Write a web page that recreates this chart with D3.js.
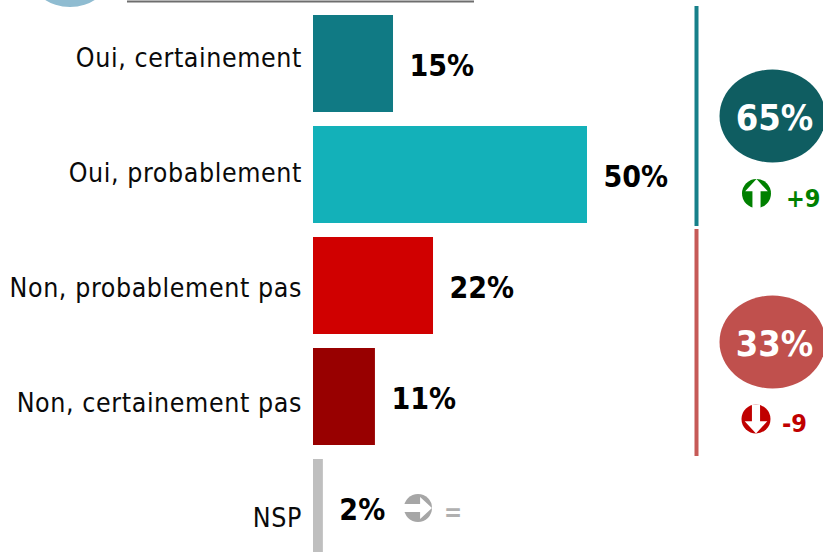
<!DOCTYPE html>
<html>
<head>
<meta charset="utf-8">
<script src="https://cdn.jsdelivr.net/npm/d3@7"></script>
<style>
html, body { margin: 0; padding: 0; background: #fff; }
text { font-family: "DejaVu Sans Condensed", "DejaVu Sans", sans-serif; }
</style>
</head>
<body>
<div id="chart"></div>
<script>
const categories = ["Oui, certainement", "Oui, probablement", "Non, probablement pas", "Non, certainement pas", "NSP"];
const values = [14.6, 50, 21.9, 11.3, 1.8];
const barColors = ["#107a84", "#13b1b9", "#d00000", "#980000", "#bfbfbf"];

const groupLabels = ["65%", "33%"];
const groupColors = ["#0f5d61", "#c0504d"];
const groupLineColors = ["#17808a", "#c65a57"];
const groupDeltas = ["+9", "-9"];
const deltaColors = ["#008000", "#c00000"];

const width = 823, height = 552;

const svg = d3.select("#chart").append("svg")
    .attr("width", width)
    .attr("height", height)
    .style("display", "block");

const x = d3.scaleLinear().domain([0, 50]).range([313, 587]);
const y = d3.scaleBand().domain(categories).range([15, 556]).paddingInner(14 / 111).paddingOuter(0);
// the axis labels don't line up with the bars in the original, they have their own spacing
const labelY = d3.scalePoint().domain(categories).range([67, 527]);

// logo fragment and rule at the top
svg.append("ellipse").attr("cx", 70).attr("cy", -22).attr("rx", 38).attr("ry", 29).attr("fill", "#8fbcd1");
svg.append("line").attr("x1", 127).attr("x2", 474).attr("y1", 1.5).attr("y2", 1.5)
    .attr("stroke", "#6e6e6e").attr("stroke-width", 2);

svg.selectAll(".bar").data(categories).enter().append("rect")
    .attr("class", "bar")
    .attr("x", x(0))
    .attr("y", d => y(d))
    .attr("width", (d, i) => x(values[i]) - x(0))
    .attr("height", y.bandwidth())
    .attr("fill", (d, i) => barColors[i]);

svg.selectAll(".cat").data(categories).enter().append("text")
    .attr("class", "cat")
    .attr("x", 302)
    .attr("y", d => labelY(d))
    .attr("text-anchor", "end")
    .style("font-size", "26.5px")
    .style("letter-spacing", "0.6px")
    .attr("fill", "#0a0a0a")
    .text(d => d);

svg.selectAll(".val").data(categories).enter().append("text")
    .attr("class", "val")
    .attr("x", (d, i) => x(values[i]) + 16.5)
    .attr("y", (d, i) => y(d) + 60.5)
    .style("font-size", "30px")
    .style("font-weight", "bold")
    .attr("fill", "#000")
    .text((d, i) => d3.format(".0f")(values[i]) + "%");

// brackets on the right
const bracketY = [[6, 226], [229, 456]];
svg.selectAll(".bracket").data(bracketY).enter().append("line")
    .attr("class", "bracket")
    .attr("x1", 696.5).attr("x2", 696.5)
    .attr("y1", d => d[0]).attr("y2", d => d[1])
    .attr("stroke", (d, i) => groupLineColors[i])
    .attr("stroke-width", 4);

const ovalY = [116, 342];
svg.selectAll(".oval").data(groupLabels).enter().append("ellipse")
    .attr("class", "oval")
    .attr("cx", 772.5)
    .attr("cy", (d, i) => ovalY[i])
    .attr("rx", 53).attr("ry", 46.5)
    .attr("fill", (d, i) => groupColors[i]);

svg.selectAll(".ovalText").data(groupLabels).enter().append("text")
    .attr("class", "ovalText")
    .attr("x", 774.5)
    .attr("y", (d, i) => ovalY[i] + 13.5)
    .attr("text-anchor", "middle")
    .style("font-size", "36px")
    .style("font-weight", "bold")
    .attr("fill", "#fff")
    .text(d => d);

// round arrow badge, dir is the rotation of an up arrow
function badge(cx, cy, r, color, dir) {
    const g = svg.append("g").attr("transform", `translate(${cx},${cy}) rotate(${dir})`);
    g.append("circle").attr("r", r).attr("fill", color);
    g.append("path")
        .attr("d", `M0,${-r} L${r * 0.78},${-r * 0.15} L${r * 0.28},${-r * 0.15} L${r * 0.28},${r} L${-r * 0.28},${r} L${-r * 0.28},${-r * 0.15} L${-r * 0.78},${-r * 0.15} Z`)
        .attr("fill", "#fff");
}
badge(756.5, 193.5, 14.5, deltaColors[0], 0);
badge(756, 419, 14.5, deltaColors[1], 180);
badge(418, 508, 14, "#a6a6a6", 90);

const deltaX = [786, 782], deltaY = [207, 432];
svg.selectAll(".delta").data(groupDeltas).enter().append("text")
    .attr("class", "delta")
    .attr("x", (d, i) => deltaX[i])
    .attr("y", (d, i) => deltaY[i])
    .style("font-size", "25px")
    .style("font-weight", "bold")
    .attr("fill", (d, i) => deltaColors[i])
    .text(d => d);

svg.append("text")
    .attr("x", 444).attr("y", 521)
    .style("font-size", "24px")
    .style("font-weight", "bold")
    .attr("fill", "#b0b0b0")
    .text("=");
</script>
</body>
</html>
